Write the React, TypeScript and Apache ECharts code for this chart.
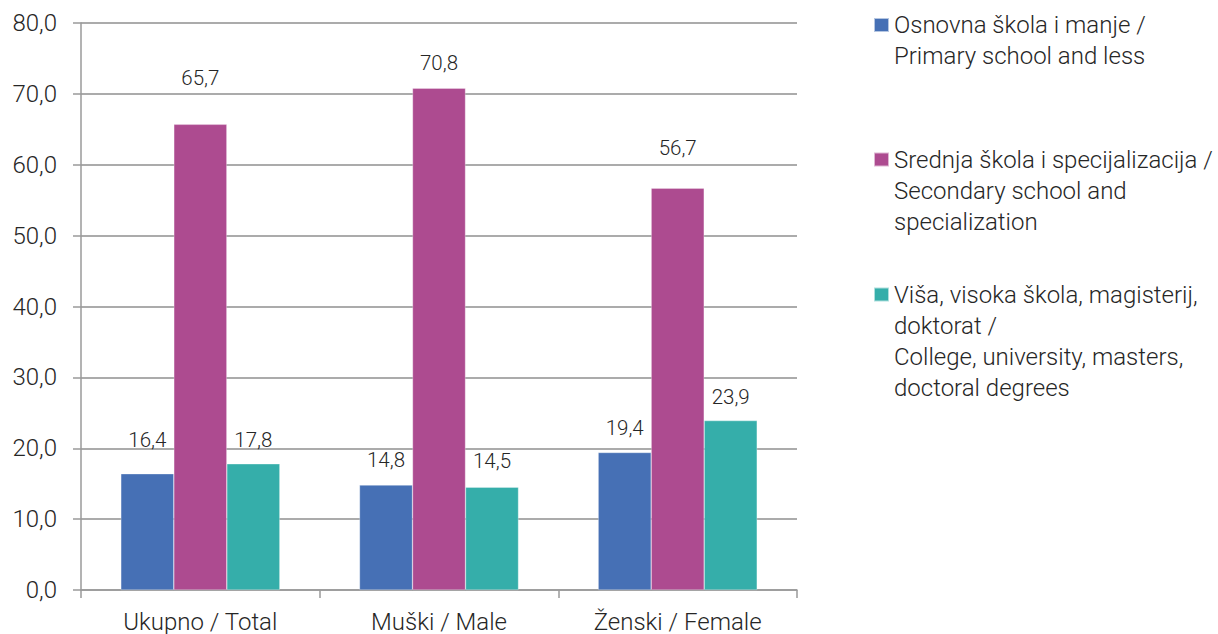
import React, { useEffect, useRef } from "react";
import * as echarts from "echarts";

const categories = ["Ukupno / Total", "Muški / Male", "Ženski / Female"];
const seriesNames = [
  "Osnovna škola i manje / Primary school and less",
  "Srednja škola i specijalizacija / Secondary school and specialization",
  "Viša, visoka škola, magisterij, doktorat / College, university, masters, doctoral degrees",
];
const legendLines = [
  ["Osnovna škola i manje /", "Primary school and less"],
  ["Srednja škola i specijalizacija /", "Secondary school and", "specialization"],
  ["Viša, visoka škola, magisterij,", "doktorat /", "College, university, masters,", "doctoral degrees"],
];
const primary = [16.4, 14.8, 19.4];
const secondary = [65.7, 70.8, 56.7];
const higher = [17.8, 14.5, 23.9];
const yTicks = { min: 0, max: 80, interval: 10 };

// styling (not data)
const colors = ["#4670B5", "#AD4B90", "#35AEAA"];
const labelDistances = [
  [23, 15, 14],
  [36, 15, 30],
  [13, 16, 13],
];
const legendCenters = [25, 159.5, 294.5];
const LH = 31;
const FONT = "Roboto";
const TEXT = "#262626";
const AXIS_FS = 24;
const LABEL_FS = 20.5;

const fmt = (v: number) => v.toFixed(1).replace(".", ",");

export default function App() {
  const ref = useRef<HTMLDivElement>(null);
  useEffect(() => {
    if (!ref.current) return;
    const chart = echarts.init(ref.current, undefined, { renderer: "svg" });
    const values = [primary, secondary, higher];
    const series = values.map((vals, si) => ({
      name: seriesNames[si],
      type: "bar",
      barWidth: 53,
      barGap: "0%",
      itemStyle: { color: colors[si], borderColor: "rgba(255,255,255,0.6)", borderWidth: 0.5 },
      data: vals.map((v, ci) => ({
        value: v,
        label: { distance: labelDistances[si][ci] },
      })),
      label: {
        show: true,
        position: "top",
        formatter: (p: any) => fmt(p.value),
        color: TEXT,
        fontSize: LABEL_FS,
        fontFamily: FONT,
        fontWeight: 300,
      },
    }));
    const legends = legendLines.map((lines, i) => {
      const n = lines.length;
      // leading blank lines so that the first real line sits level with the marker
      const text = new Array(n - 1).fill("").concat(lines).join("\n");
      return {
        orient: "vertical",
        left: 873,
        top: legendCenters[i] - ((2 * n - 1) * LH) / 2,
        padding: 0,
        itemWidth: 15,
        itemHeight: 14,
        icon: "rect",
        data: [seriesNames[i]],
        selectedMode: false,
        formatter: () => text,
        textStyle: {
          color: TEXT,
          fontSize: AXIS_FS,
          fontFamily: FONT,
          fontWeight: 300,
          lineHeight: LH,
        },
      };
    });
    chart.setOption({
      animation: false,
      color: colors,
      textStyle: { fontFamily: FONT },
      grid: { left: 81, right: 421, top: 23, bottom: 44, containLabel: false },
      legend: legends,
      xAxis: {
        type: "category",
        data: categories,
        axisLine: { lineStyle: { color: "#9a9a9a", width: 1.5 } },
        axisTick: { show: true, length: 8, lineStyle: { color: "#9a9a9a", width: 1.5 } },
        axisLabel: { color: TEXT, fontSize: AXIS_FS, fontFamily: FONT, fontWeight: 300, margin: 20 },
      },
      yAxis: {
        type: "value",
        min: yTicks.min,
        max: yTicks.max,
        interval: yTicks.interval,
        axisLine: { show: true, lineStyle: { color: "#9a9a9a", width: 1.5 } },
        axisTick: { show: true, length: 8, lineStyle: { color: "#9a9a9a", width: 1.5 } },
        splitLine: { lineStyle: { color: "#8f8f8f", width: 1.5 } },
        axisLabel: {
          color: TEXT,
          fontSize: AXIS_FS,
          fontFamily: FONT,
          fontWeight: 300,
          margin: 24,
          formatter: (v: number) => fmt(v),
        },
      },
      series,
    });
    return () => chart.dispose();
  }, []);
  return (
    <div
      ref={ref}
      style={{ position: "absolute", left: 0, top: 0, width: 1218, height: 634 }}
    />
  );
}
